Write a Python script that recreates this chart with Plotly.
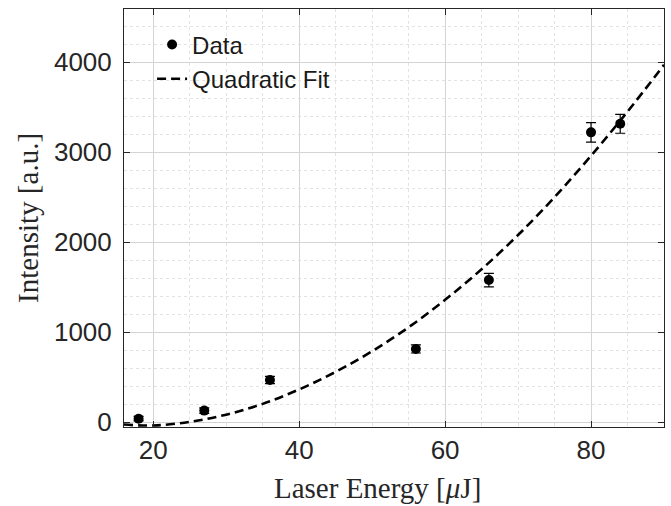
import plotly.graph_objects as go

# Measured data
energy = [18, 27, 36, 56, 66, 80, 84]
intensity = [40, 130, 470, 815, 1580, 3220, 3315]
intensity_err = [25, 30, 40, 45, 75, 108, 105]

# Quadratic fit curve
fit_energy = [16, 20, 25, 30, 35, 40, 45, 50, 55, 60, 65, 70, 75, 80, 85, 90]
fit_intensity = [-25, -35, 5, 85, 205, 365, 560, 790, 1055, 1360, 1700, 2080, 2500, 2960, 3450, 3970]

x_ticks = [20, 40, 60, 80]
y_ticks = [0, 1000, 2000, 3000, 4000]

fig = go.Figure()
fig.add_trace(go.Scatter(
    x=energy, y=intensity, mode="markers", name="Data",
    marker=dict(color="black", size=10, symbol="circle"),
    error_y=dict(type="data", array=intensity_err, color="black", thickness=1.2, width=5, visible=True),
))
fig.add_trace(go.Scatter(
    x=fit_energy, y=fit_intensity, mode="lines", name="Quadratic Fit",
    line=dict(color="black", width=2.6, dash="9px,5px", shape="spline"),
))

axis_common = dict(
    showline=True, linecolor="#262626", linewidth=1, mirror="ticks",
    ticks="inside", ticklen=6, tickcolor="#262626", tickwidth=1,
    showgrid=True, gridcolor="#d4d4d4", gridwidth=1,
    zeroline=False,
    tickfont=dict(family="Liberation Sans, Arial, sans-serif", size=26, color="#262626"),
)

fig.update_xaxes(
    range=[16, 90], tickvals=x_ticks,
    minor=dict(dtick=5, tick0=0, showgrid=True, gridcolor="#e3e3e3", griddash="dot", ticks=""),
    **axis_common,
)
fig.update_yaxes(
    range=[-52, 4590], tickvals=y_ticks, ticklabelstandoff=6,
    minor=dict(dtick=200, tick0=0, showgrid=True, gridcolor="#e3e3e3", griddash="dot", ticks=""),
    **axis_common,
)

fig.update_layout(
    width=671, height=506,
    margin=dict(l=124, r=7, t=9, b=79),
    paper_bgcolor="white", plot_bgcolor="white",
    showlegend=True,
    legend=dict(
        x=0.052, y=0.968, xanchor="left", yanchor="top",
        bgcolor="rgba(0,0,0,0)", borderwidth=0,
        font=dict(family="Liberation Sans, Arial, sans-serif", size=24, color="#1a1a1a"),
    ),
    annotations=[
        dict(text="Laser Energy [<i>μ</i>J]", xref="paper", yref="paper",
             x=0.47, y=-0.145, xanchor="center", yanchor="middle", showarrow=False,
             font=dict(family="Liberation Serif, Times New Roman, serif", size=29, color="#262626")),
        dict(text="Intensity [a.u.]", xref="paper", yref="paper", textangle=-90,
             x=-0.178, y=0.5, xanchor="center", yanchor="middle", showarrow=False,
             font=dict(family="Liberation Serif, Times New Roman, serif", size=29, color="#262626")),
    ],
)

fig.write_html("out.html", config={"displayModeBar": False},
               post_script="document.body.style.margin='0';document.body.style.overflow='hidden';")
